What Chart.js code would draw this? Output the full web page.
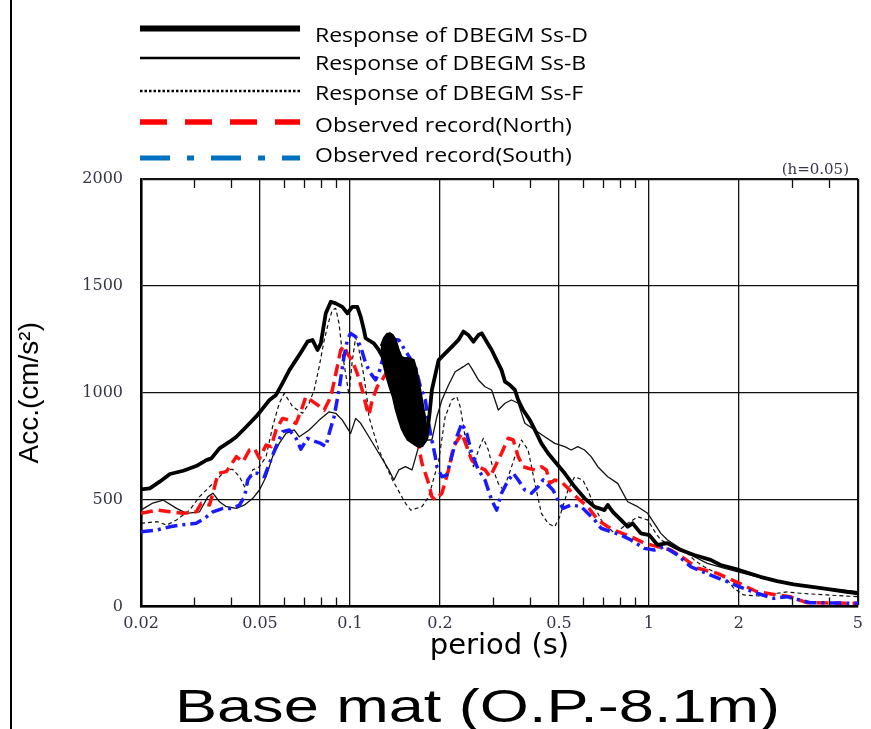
<!DOCTYPE html>
<html>
<head>
<meta charset="utf-8">
<script src="https://cdn.jsdelivr.net/npm/chart.js@4.4.0/dist/chart.umd.min.js"></script>
<style>
  body { margin: 0; background: #fff; }
  canvas { display: block; }
</style>
</head>
<body>
<canvas id="chart" width="871" height="729"></canvas>
<script>
// legend / series names
const seriesNames = [
  'Response of DBEGM Ss-D',
  'Response of DBEGM Ss-B',
  'Response of DBEGM Ss-F',
  'Observed record(North)',
  'Observed record(South)'
];
const chartTitle = 'Base mat (O.P.-8.1m)';
const xTitle = 'period (s)';
const yTitle = 'Acc.(cm/s²)';
const dampingNote = '(h=0.05)';

const xTicks = [0.02, 0.05, 0.1, 0.2, 0.5, 1, 2, 5];
const xTickLabels = ['0.02', '0.05', '0.1', '0.2', '0.5', '1', '2', '5'];
const xMinorTicks = [0.03, 0.04, 0.06, 0.07, 0.08, 0.09, 0.3, 0.4, 0.6, 0.7, 0.8, 0.9, 3, 4];
const yTicks = [0, 500, 1000, 1500, 2000];

// Ss-D (thick solid)
const ssdPeriod = [0.02, 0.0214, 0.0231, 0.025, 0.0277, 0.0306, 0.0331, 0.0344, 0.0366, 0.0396,
  0.0417, 0.045, 0.0485, 0.0511, 0.0538, 0.0566, 0.0595, 0.0627, 0.0677, 0.0721,
  0.0749, 0.0779, 0.0799, 0.083, 0.0863, 0.0896, 0.0943, 0.098, 0.1018, 0.1058,
  0.1086, 0.1114, 0.1128, 0.1202, 0.1249, 0.1805, 0.1845, 0.1879, 0.1979, 0.2082,
  0.219, 0.2306, 0.2396, 0.249, 0.2588, 0.2689, 0.2758, 0.2866, 0.2978, 0.3094,
  0.3214, 0.33, 0.3428, 0.3562, 0.3654, 0.3796, 0.3997, 0.4154, 0.4368, 0.4598,
  0.49, 0.5227, 0.5643, 0.609, 0.6578, 0.7103, 0.728, 0.757, 0.806, 0.849,
  0.882, 0.94, 1.003, 1.069, 1.154, 1.278, 1.416, 1.608, 1.736, 2.0,
  2.358, 2.682, 3.047, 3.46, 3.93, 4.58, 5.0];
const ssdAcc = [548, 553, 584, 620, 635, 657, 685, 693, 740, 771,
  794, 841, 888, 927, 966, 990, 1045, 1106, 1177, 1239,
  1247, 1200, 1231, 1372, 1426, 1418, 1402, 1372, 1402, 1402,
  1356, 1293, 1255, 1231, 1200, 790, 900, 1013, 1153, 1184,
  1215, 1247, 1286, 1270, 1239, 1270, 1278, 1239, 1200, 1153,
  1106, 1052, 1036, 1013, 966, 919, 872, 826, 763, 717,
  670, 623, 560, 506, 467, 451, 475, 443, 405, 373,
  389, 342, 334, 288, 296, 264, 241, 218, 194, 171,
  139, 119, 104, 93, 82, 69, 62];

// Ss-D solid black patch around 0.13-0.18 s (outline of the blotted area)
const ssdPatchPeriod = [0.1268, 0.1298, 0.1328, 0.1359, 0.1391, 0.1423, 0.1456, 0.149, 0.1525, 0.156,
  0.1596, 0.1634, 0.1672, 0.171, 0.175, 0.1791, 0.1805, 0.175, 0.171, 0.1672,
  0.1634, 0.1596, 0.156, 0.1525, 0.149, 0.1456, 0.1423, 0.1391, 0.1359, 0.1328,
  0.1298, 0.1268];
const ssdPatchAcc = [1219, 1256, 1275, 1279, 1270, 1247, 1200, 1167, 1162, 1162,
  1158, 1153, 1106, 1031, 952, 873, 779, 751, 746, 751,
  760, 770, 779, 802, 830, 873, 919, 980, 1022, 1069,
  1125, 1200];

// Ss-B (thin solid)
const ssbPeriod = [0.02, 0.0219, 0.0237, 0.0263, 0.0284, 0.0314, 0.0335, 0.0348, 0.0366, 0.0386,
  0.0417, 0.0444, 0.0473, 0.0498, 0.0524, 0.0551, 0.058, 0.0611, 0.0651, 0.0677,
  0.073, 0.0789, 0.0852, 0.0896, 0.0943, 0.1005, 0.1045, 0.1086, 0.1157, 0.1249,
  0.1349, 0.1402, 0.1456, 0.1533, 0.1613, 0.1697, 0.1809, 0.1879, 0.1953, 0.203,
  0.2136, 0.2249, 0.2396, 0.249, 0.2554, 0.2689, 0.2829, 0.2978, 0.3134, 0.33,
  0.3468, 0.3654, 0.3846, 0.4154, 0.4483, 0.484, 0.5227, 0.5495, 0.5781, 0.609,
  0.6408, 0.6745, 0.728, 0.7863, 0.849, 0.917, 0.99, 1.042, 1.096, 1.154,
  1.246, 1.38, 1.568, 1.781, 1.972, 2.3, 2.968, 3.83, 5.0];
const ssbAcc = [451, 484, 498, 459, 436, 443, 514, 530, 490, 467,
  459, 475, 506, 545, 607, 701, 763, 810, 826, 794,
  826, 872, 911, 904, 872, 810, 880, 857, 794, 717,
  639, 592, 639, 654, 639, 748, 779, 779, 888, 966,
  1036, 1098, 1122, 1138, 1114, 1060, 1028, 1013, 919, 951,
  966, 951, 857, 826, 794, 763, 748, 732, 748, 732,
  701, 654, 607, 576, 490, 467, 436, 389, 342, 311,
  280, 241, 202, 179, 163, 139, 109, 85, 69];

// Ss-F (thin dashed)
const ssfPeriod = [0.02, 0.0226, 0.0244, 0.0263, 0.0291, 0.0314, 0.0339, 0.0366, 0.0386, 0.0405,
  0.0427, 0.0444, 0.0455, 0.0473, 0.0498, 0.0524, 0.0551, 0.058, 0.0603, 0.0643,
  0.0694, 0.073, 0.0759, 0.0789, 0.082, 0.0852, 0.0873, 0.0896, 0.0919, 0.0943,
  0.0967, 0.0992, 0.1018, 0.1045, 0.1072, 0.1114, 0.1142, 0.1157, 0.1249, 0.1387,
  0.1533, 0.1598, 0.1741, 0.1833, 0.1979, 0.2082, 0.219, 0.2276, 0.2337, 0.2428,
  0.2524, 0.2588, 0.2689, 0.2794, 0.2903, 0.3016, 0.3134, 0.3256, 0.3383, 0.3562,
  0.3748, 0.3944, 0.4154, 0.4368, 0.4598, 0.484, 0.503, 0.536, 0.5643, 0.601,
  0.6246, 0.6578, 0.6917, 0.728, 0.7666, 0.7966, 0.849, 0.917, 0.99, 1.055,
  1.096, 1.183, 1.311, 1.416, 1.528, 1.693, 1.828, 1.924, 2.076, 2.358,
  2.682, 2.894, 3.204, 3.93, 5.0];
const ssfAcc = [389, 397, 381, 405, 451, 514, 560, 607, 639, 642,
  607, 560, 573, 639, 654, 701, 841, 951, 997, 935,
  904, 951, 1013, 1122, 1247, 1340, 1387, 1395, 1325, 1184,
  1091, 990, 1150, 1260, 1200, 1075, 966, 888, 732, 592,
  483, 451, 467, 514, 680, 888, 966, 982, 935, 794,
  701, 654, 732, 787, 732, 639, 576, 545, 607, 701,
  779, 732, 576, 436, 389, 373, 420, 545, 607, 592,
  545, 467, 405, 373, 342, 358, 389, 420, 405, 342,
  311, 288, 264, 218, 186, 155, 124, 85, 54, 49,
  62, 68, 62, 54, 46];

// Observed, North (red dashed)
const northPeriod = [0.02, 0.0226, 0.025, 0.0277, 0.0306, 0.0318, 0.0339, 0.0348, 0.0362, 0.0386,
  0.0417, 0.0438, 0.0461, 0.0479, 0.0498, 0.0524, 0.0545, 0.0566, 0.0595, 0.0627,
  0.066, 0.0694, 0.0712, 0.0749, 0.0779, 0.082, 0.0852, 0.0873, 0.0907, 0.0931,
  0.0955, 0.098, 0.1018, 0.1058, 0.1099, 0.1142, 0.1157, 0.1187, 0.1233, 0.1281,
  0.136, 0.15, 0.1697, 0.1741, 0.1833, 0.1879, 0.1929, 0.203, 0.2136, 0.222,
  0.2366, 0.2458, 0.2554, 0.2689, 0.2829, 0.2942, 0.3056, 0.3214, 0.3383, 0.3516,
  0.3654, 0.3796, 0.3944, 0.4154, 0.4368, 0.454, 0.4658, 0.484, 0.509, 0.536,
  0.578, 0.6246, 0.6745, 0.728, 0.7863, 0.8706, 0.965, 1.069, 1.183, 1.311,
  1.456, 1.693, 2.0, 2.3, 2.682, 2.968, 3.37, 5.0];
const northAcc = [436, 451, 443, 436, 443, 483, 475, 530, 623, 631,
  701, 677, 732, 740, 693, 755, 748, 826, 880, 872,
  857, 935, 982, 960, 943, 919, 966, 1013, 1122, 1200,
  1220, 1184, 1150, 1090, 1013, 919, 896, 966, 1028, 1060,
  1120, 1000, 748, 670, 576, 514, 498, 530, 639, 748,
  810, 748, 685, 654, 639, 607, 654, 717, 787, 779,
  701, 654, 647, 639, 654, 639, 576, 592, 584, 553,
  506, 467, 405, 373, 350, 327, 296, 280, 264, 225,
  179, 155, 109, 69, 54, 46, 18, 15];

// Observed, South (blue dash-dot)
const southPeriod = [0.02, 0.0226, 0.025, 0.027, 0.0306, 0.0327, 0.0348, 0.0376, 0.0405, 0.0427,
  0.0444, 0.0455, 0.0473, 0.0491, 0.0517, 0.0538, 0.0566, 0.0595, 0.0627, 0.066,
  0.0685, 0.0721, 0.074, 0.0799, 0.083, 0.0852, 0.0885, 0.0919, 0.0955, 0.098,
  0.1005, 0.1045, 0.1086, 0.1128, 0.1172, 0.1218, 0.1249, 0.13, 0.137, 0.1456,
  0.1552, 0.1655, 0.172, 0.1787, 0.1833, 0.1879, 0.1929, 0.1953, 0.203, 0.2108,
  0.219, 0.2276, 0.2366, 0.2458, 0.2554, 0.2689, 0.2829, 0.2978, 0.3094, 0.3214,
  0.334, 0.3516, 0.3654, 0.3846, 0.4048, 0.4258, 0.4425, 0.4598, 0.4776, 0.4963,
  0.5157, 0.5498, 0.5936, 0.6246, 0.6578, 0.6917, 0.747, 0.8066, 0.8706, 0.965,
  1.042, 1.125, 1.246, 1.38, 1.608, 1.828, 2.0, 2.3, 2.614, 2.894,
  3.204, 3.46, 5.0];
const southAcc = [350, 358, 373, 381, 389, 413, 443, 459, 459, 475,
  514, 592, 623, 623, 607, 670, 748, 818, 826, 787,
  736, 787, 779, 763, 748, 810, 888, 1013, 1169, 1247,
  1278, 1262, 1215, 1138, 1091, 1060, 1091, 1180, 1250, 1247,
  1184, 1122, 1028, 966, 857, 779, 701, 654, 607, 615,
  701, 794, 857, 810, 717, 639, 592, 498, 451, 530,
  576, 623, 592, 545, 530, 560, 592, 568, 545, 498,
  459, 475, 467, 436, 405, 366, 350, 334, 311, 272,
  264, 280, 241, 186, 147, 116, 93, 62, 38, 46,
  30, 18, 15];

function pts(periods, acc) {
  return periods.map((p, i) => ({ x: p, y: acc[i] }))
}

const tickColor = '#35354a'
const serif = '"DejaVu Serif", "Liberation Serif", serif'

// short inner tick marks between the labelled grid lines
const minorTickPlugin = {
  id: 'minorTicks',
  afterDatasetsDraw(chart) {
    const { ctx, chartArea, scales } = chart
    ctx.save()
    ctx.strokeStyle = '#111'
    ctx.lineWidth = 1.3
    xMinorTicks.forEach(v => {
      const px = Math.round(scales.x.getPixelForValue(v)) + 0.5
      ctx.beginPath()
      ctx.moveTo(px, chartArea.top)
      ctx.lineTo(px, chartArea.top + 9)
      ctx.moveTo(px, chartArea.bottom)
      ctx.lineTo(px, chartArea.bottom - 9)
      ctx.stroke()
    })
    ctx.restore()
  }
}

// legend block, damping note, page frame and bottom caption
const legendStyles = [
  { width: 6, dash: [], color: '#000' },
  { width: 2.5, dash: [], color: '#000' },
  { width: 2.5, dash: [2.5, 2], color: '#000' },
  { width: 5.5, dash: [27, 18], color: '#ff0000' },
  { width: 5, dash: [30, 17, 7, 17], color: '#0070c0' }
]
const legendLineY = [28.5, 58, 91, 122, 158]
const legendTextY = [41.5, 70, 99.5, 132, 161.5]

const decorPlugin = {
  id: 'decor',
  afterDraw(chart) {
    const ctx = chart.ctx
    ctx.save()
    // legend
    ctx.font = '20px "Open Sans", "Liberation Sans", sans-serif'
    const stretch = 273 / ctx.measureText(seriesNames[0]).width
    seriesNames.forEach((name, i) => {
      const st = legendStyles[i]
      ctx.beginPath()
      ctx.lineWidth = st.width
      ctx.strokeStyle = st.color
      ctx.setLineDash(st.dash)
      ctx.lineCap = 'butt'
      ctx.moveTo(140, legendLineY[i])
      ctx.lineTo(300, legendLineY[i])
      ctx.stroke()
      ctx.setLineDash([])
      ctx.save()
      ctx.fillStyle = '#000'
      ctx.textAlign = 'left'
      ctx.textBaseline = 'alphabetic'
      ctx.translate(315, legendTextY[i])
      ctx.scale(stretch, 1)
      ctx.fillText(name, 0, 0)
      ctx.restore()
    })
    // damping note
    ctx.font = '15px ' + serif
    ctx.fillStyle = tickColor
    ctx.textAlign = 'right'
    ctx.fillText(dampingNote, 849, 174)
    // left frame line
    ctx.beginPath()
    ctx.strokeStyle = '#000'
    ctx.lineWidth = 2
    ctx.moveTo(11, 0)
    ctx.lineTo(11, 729)
    ctx.stroke()
    // caption
    ctx.font = '47px "Liberation Sans", sans-serif'
    ctx.fillStyle = '#000'
    ctx.textAlign = 'left'
    const w = ctx.measureText(chartTitle).width
    ctx.translate(175, 722)
    ctx.scale(605 / w, 1)
    ctx.fillText(chartTitle, 0, 0)
    ctx.restore()
  }
}

const lineBase = { pointRadius: 0, fill: false, tension: 0, borderJoinStyle: 'round' }

new Chart(document.getElementById('chart'), {
  type: 'line',
  data: {
    datasets: [
      { ...lineBase, label: seriesNames[0], data: pts(ssdPeriod, ssdAcc), borderColor: '#000', borderWidth: 3.8, order: 0 },
      { ...lineBase, label: 'Ss-D patch', data: pts(ssdPatchPeriod, ssdPatchAcc), borderColor: '#000', backgroundColor: '#000', borderWidth: 2, fill: 'shape', order: 0 },
      { ...lineBase, label: seriesNames[4], data: pts(southPeriod, southAcc), borderColor: '#1a1aff', borderWidth: 3.5, borderDash: [12, 5, 3, 5], order: 1 },
      { ...lineBase, label: seriesNames[3], data: pts(northPeriod, northAcc), borderColor: '#ff1010', borderWidth: 3.5, borderDash: [12, 6], order: 2 },
      { ...lineBase, label: seriesNames[1], data: pts(ssbPeriod, ssbAcc), borderColor: '#111', borderWidth: 1.3, order: 3 },
      { ...lineBase, label: seriesNames[2], data: pts(ssfPeriod, ssfAcc), borderColor: '#111', borderWidth: 1.2, borderDash: [4, 3], order: 4 }
    ]
  },
  options: {
    responsive: false,
    animation: false,
    layout: { padding: { top: 179, right: 9, left: 0, bottom: 47 } },
    plugins: {
      legend: { display: false },
      title: { display: false },
      tooltip: { enabled: false }
    },
    scales: {
      x: {
        type: 'logarithmic',
        min: 0.02,
        max: 5,
        afterBuildTicks: s => { s.ticks = xTicks.map(v => ({ value: v })) },
        afterFit: s => { s.height = 75.5 },
        ticks: {
          autoSkip: false,
          maxRotation: 0,
          padding: 8,
          color: tickColor,
          font: { family: serif, size: 16 },
          callback: (v, i) => xTickLabels[i]
        },
        grid: {
          color: '#111',
          lineWidth: c => (c.tick && c.tick.value === 5 ? 2.2 : 1.3),
          drawTicks: false
        },
        border: { color: '#000', width: 2.6 },
        title: {
          display: true,
          text: xTitle,
          color: '#000',
          font: { family: '"DejaVu Sans", sans-serif', size: 29 },
          padding: { top: 0, bottom: 18 }
        }
      },
      y: {
        min: 0,
        max: 2000,
        afterBuildTicks: s => { s.ticks = yTicks.map(v => ({ value: v })) },
        afterFit: s => { s.width = 141 },
        ticks: {
          padding: 18,
          color: tickColor,
          font: { family: serif, size: 16 },
          callback: v => String(v)
        },
        grid: {
          color: '#111',
          lineWidth: c => (c.tick && c.tick.value === 2000 ? 2.2 : 1.3),
          drawTicks: false
        },
        border: { color: '#000', width: 2.6 },
        title: {
          display: true,
          text: yTitle,
          color: '#000',
          font: { family: '"Liberation Sans", sans-serif', size: 28 },
          padding: { top: 13, bottom: 0 }
        }
      }
    }
  },
  plugins: [minorTickPlugin, decorPlugin]
})
</script>
</body>
</html>
